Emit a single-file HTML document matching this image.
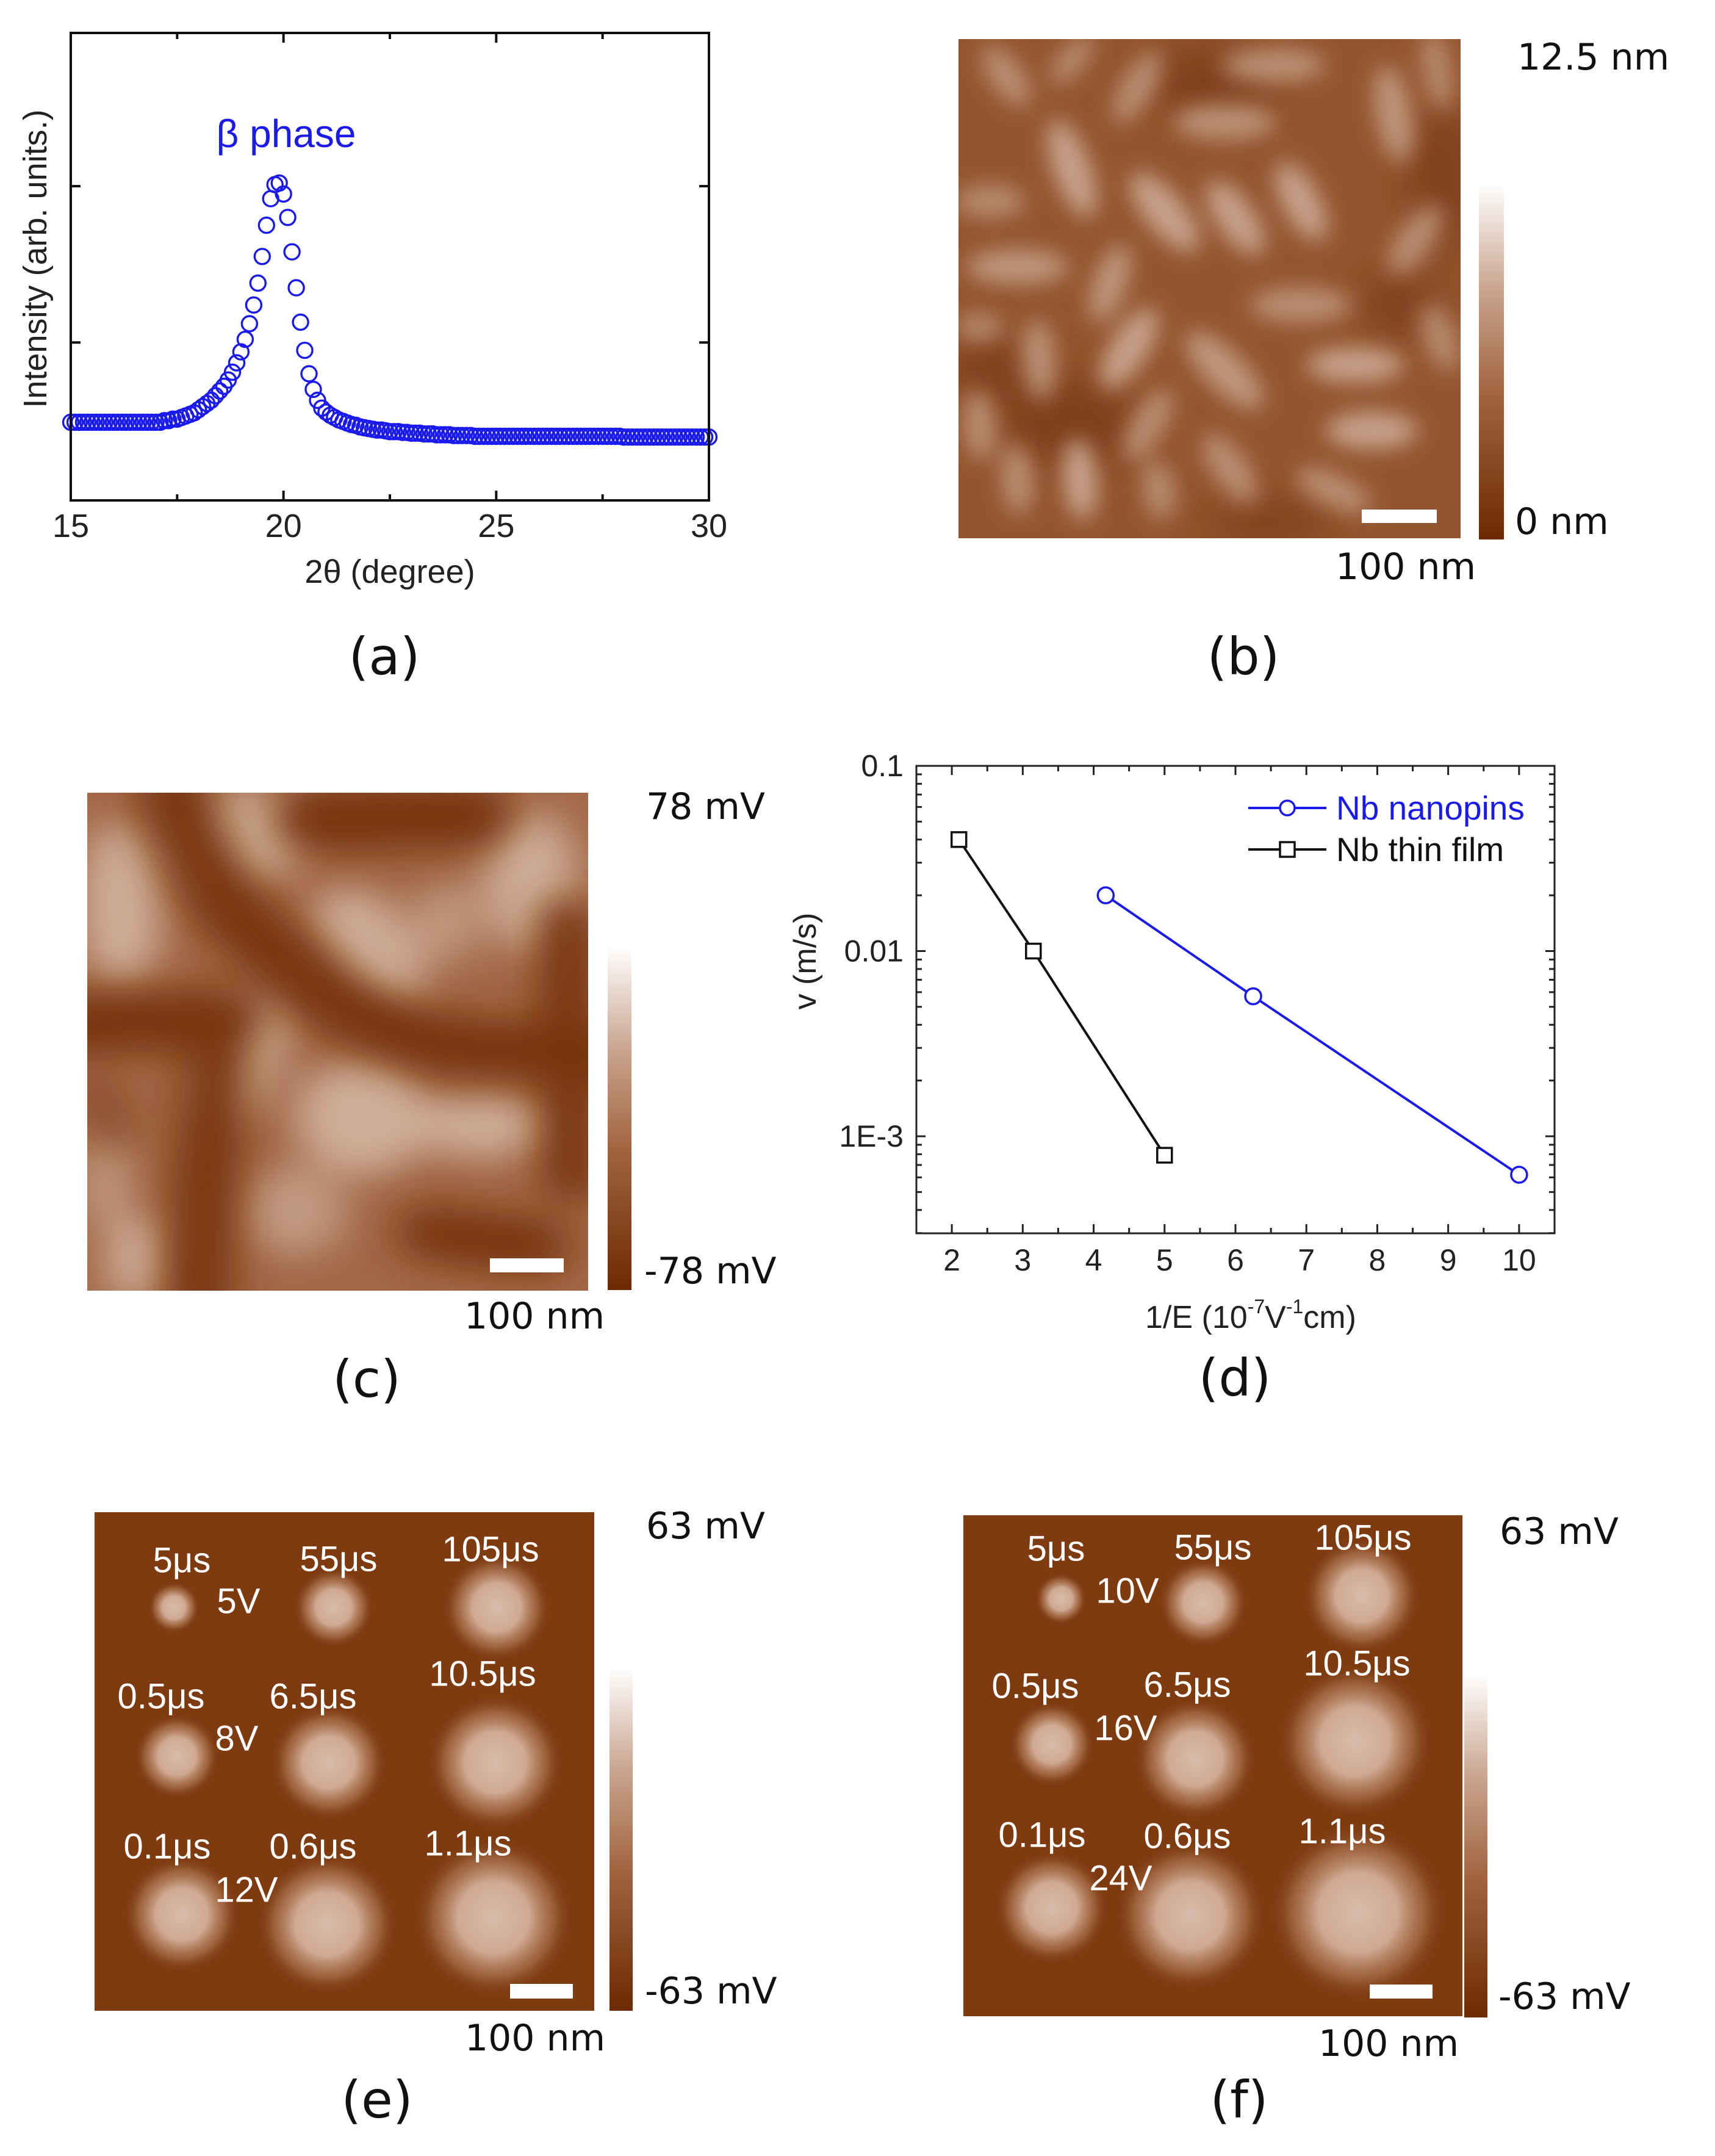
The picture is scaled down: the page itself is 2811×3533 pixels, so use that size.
<!DOCTYPE html>
<html><head><meta charset="utf-8">
<style>
html,body{margin:0;padding:0;background:#fff;}
svg{display:block;}
.t{font-family:"Liberation Sans",Arial,sans-serif;}
.v{font-family:"DejaVu Sans","Liberation Sans",sans-serif;}
</style></head>
<body>
<svg id="fig" width="2811" height="3533" viewBox="0 0 2811 3533" xmlns="http://www.w3.org/2000/svg">
<defs>
  <linearGradient id="cbar" x1="0" y1="0" x2="0" y2="1">
    <stop offset="0" stop-color="#ffffff"/>
    <stop offset="0.3" stop-color="#c9a48e"/>
    <stop offset="0.6" stop-color="#a0623e"/>
    <stop offset="1" stop-color="#6c2a00"/>
  </linearGradient>
  <filter id="blurB" x="-30%" y="-30%" width="160%" height="160%"><feGaussianBlur stdDeviation="20"/></filter>
  <filter id="blurC" x="-30%" y="-30%" width="160%" height="160%"><feGaussianBlur stdDeviation="40"/></filter>
  <radialGradient id="spot">
    <stop offset="0" stop-color="#d8bcaa"/>
    <stop offset="0.45" stop-color="#cfa992"/>
    <stop offset="0.75" stop-color="#b07a58" stop-opacity="0.6"/>
    <stop offset="1" stop-color="#7e3b10" stop-opacity="0"/>
  </radialGradient>
  <clipPath id="clipB"><rect x="192" y="72" width="921" height="916"/></clipPath>
  <clipPath id="clipC"><rect x="165" y="130" width="955" height="1120"/></clipPath>
</defs>

<!-- Panel a -->
<g id="panelA"></g>
<text class="t" x="469" y="219" font-size="64" fill="#1a1aee" text-anchor="middle" dominant-baseline="central">β phase</text>
<text class="t" x="639" y="937" font-size="54" fill="#222" text-anchor="middle" dominant-baseline="central">2θ (degree)</text>
<text class="t" font-size="54" fill="#222" text-anchor="middle" dominant-baseline="central" transform="translate(58,424) rotate(-90)">Intensity (arb. units.)</text>
<text class="v" x="630" y="1076" font-size="84" fill="#111" text-anchor="middle" dominant-baseline="central">(a)</text>

<!-- Panel b -->
<g>
  <svg x="1571" y="64" width="823" height="818" viewBox="192 72 921 916" preserveAspectRatio="none">
    <rect x="192" y="72" width="921" height="916" fill="#93552f"/>
    <g clip-path="url(#clipB)">
      <g filter="url(#blurC)" fill="#7a3a12" opacity="0.85">
        <ellipse cx="650" cy="150" rx="120" ry="60"/><ellipse cx="1080" cy="330" rx="60" ry="140"/>
        <ellipse cx="400" cy="780" rx="120" ry="90"/><ellipse cx="250" cy="680" rx="80" ry="60"/>
        <ellipse cx="760" cy="960" rx="120" ry="40"/><ellipse cx="1000" cy="560" rx="70" ry="60"/>
      </g>
      <g filter="url(#blurB)" fill="#c8a28c">
        <ellipse cx="400" cy="310" rx="95" ry="34" transform="rotate(70 400 310)"/>
        <ellipse cx="570" cy="390" rx="90" ry="36" transform="rotate(50 570 390)"/>
        <ellipse cx="700" cy="400" rx="80" ry="34" transform="rotate(55 700 400)"/>
        <ellipse cx="820" cy="370" rx="80" ry="34" transform="rotate(62 820 370)"/>
        <ellipse cx="505" cy="640" rx="85" ry="34" transform="rotate(-58 505 640)"/>
        <ellipse cx="415" cy="880" rx="75" ry="32" transform="rotate(85 415 880)"/>
        <ellipse cx="920" cy="670" rx="90" ry="32"/>
        <ellipse cx="950" cy="790" rx="85" ry="34"/>
        <ellipse cx="770" cy="120" rx="95" ry="30" opacity="0.8"/>
        <ellipse cx="680" cy="225" rx="95" ry="32" opacity="0.8"/>
        <ellipse cx="300" cy="490" rx="95" ry="32" opacity="0.85"/>
        <ellipse cx="990" cy="210" rx="90" ry="32" transform="rotate(80 990 210)" opacity="0.85"/>
        <ellipse cx="470" cy="520" rx="75" ry="30" transform="rotate(-70 470 520)" opacity="0.85"/>
        <ellipse cx="340" cy="660" rx="75" ry="30" transform="rotate(85 340 660)" opacity="0.8"/>
        <ellipse cx="280" cy="140" rx="65" ry="30" transform="rotate(55 280 140)" opacity="0.75"/>
        <ellipse cx="520" cy="160" rx="75" ry="30" transform="rotate(-60 520 160)" opacity="0.75"/>
        <ellipse cx="1030" cy="440" rx="75" ry="32" transform="rotate(-55 1030 440)" opacity="0.75"/>
        <ellipse cx="820" cy="560" rx="95" ry="32" opacity="0.75"/>
        <ellipse cx="680" cy="680" rx="95" ry="36" transform="rotate(45 680 680)" opacity="0.85"/>
        <ellipse cx="690" cy="860" rx="75" ry="32" transform="rotate(55 690 860)" opacity="0.75"/>
        <ellipse cx="300" cy="880" rx="65" ry="30" transform="rotate(85 300 880)" opacity="0.75"/>
        <ellipse cx="540" cy="780" rx="75" ry="30" transform="rotate(-60 540 780)" opacity="0.75"/>
        <ellipse cx="230" cy="780" rx="65" ry="30" transform="rotate(85 230 780)" opacity="0.75"/>
        <ellipse cx="880" cy="900" rx="75" ry="30" transform="rotate(25 880 900)" opacity="0.75"/>
        <ellipse cx="250" cy="370" rx="65" ry="30" opacity="0.7"/>
        <ellipse cx="1075" cy="620" rx="65" ry="30" transform="rotate(70 1075 620)" opacity="0.7"/>
        <ellipse cx="560" cy="900" rx="55" ry="30" transform="rotate(80 560 900)" opacity="0.7"/>
        <ellipse cx="230" cy="600" rx="45" ry="26" opacity="0.7"/>
        <ellipse cx="1070" cy="130" rx="75" ry="26" transform="rotate(80 1070 130)" opacity="0.7"/>
        <ellipse cx="400" cy="110" rx="55" ry="24" transform="rotate(-50 400 110)" opacity="0.7"/>
      </g>
    </g>
  </svg>
  <rect x="2232" y="835" width="123" height="22" fill="#fff"/>
</g>
<rect x="2424" y="299" width="41" height="585" fill="url(#cbar)"/>
<text class="v" x="2487" y="94" font-size="60" fill="#111" dominant-baseline="central">12.5 nm</text>
<text class="v" x="2483" y="855" font-size="60" fill="#111" dominant-baseline="central">0 nm</text>
<text class="v" x="2304" y="929" font-size="60" fill="#111" text-anchor="middle" dominant-baseline="central">100 nm</text>
<text class="v" x="2038" y="1076" font-size="84" fill="#111" text-anchor="middle" dominant-baseline="central">(b)</text>

<!-- Panel c -->
<g>
  <svg x="143" y="1299" width="821" height="816" viewBox="165 130 955 1120" preserveAspectRatio="none">
    <rect x="165" y="130" width="955" height="1120" fill="#a36849"/>
    <g clip-path="url(#clipC)">
      <g filter="url(#blurC)" fill="#cfae98">
        <ellipse cx="230" cy="380" rx="80" ry="190"/>
        <ellipse cx="450" cy="230" rx="130" ry="110"/>
        <ellipse cx="700" cy="480" rx="90" ry="150" transform="rotate(-30 700 480)"/>
        <ellipse cx="470" cy="720" rx="65" ry="160" transform="rotate(20 470 720)"/>
        <ellipse cx="690" cy="860" rx="130" ry="130"/>
        <ellipse cx="920" cy="880" rx="140" ry="70"/>
        <ellipse cx="1010" cy="330" rx="90" ry="160"/>
        <ellipse cx="260" cy="1180" rx="60" ry="100"/>
        <ellipse cx="560" cy="1070" rx="100" ry="100" opacity="0.7"/>
        <ellipse cx="200" cy="1000" rx="50" ry="110" opacity="0.7"/>
        <ellipse cx="850" cy="420" rx="60" ry="90" opacity="0.7"/>
      </g>
      <g filter="url(#blurC)" fill="none" stroke="#78360f" stroke-linecap="round">
        <path d="M120,650 L430,640" stroke-width="140"/>
        <path d="M330,130 C380,350 480,450 560,520 C620,600 700,660 850,700 L1150,720" stroke-width="140"/>
        <path d="M600,190 L900,180" stroke-width="150"/>
        <path d="M1080,420 L1090,1000" stroke-width="110"/>
        <path d="M410,740 C400,900 380,1100 380,1280" stroke-width="120"/>
        <path d="M820,1120 L1020,1150" stroke-width="130"/>
        <path d="M180,800 L220,900" stroke-width="80" opacity="0.6"/>
      </g>
    </g>
  </svg>
  <rect x="803" y="2062" width="121" height="23" fill="#fff"/>
</g>
<rect x="996" y="1552" width="39" height="562" fill="url(#cbar)"/>
<text class="v" x="1059" y="1322" font-size="60" fill="#111" dominant-baseline="central">78 mV</text>
<text class="v" x="1056" y="2083" font-size="60" fill="#111" dominant-baseline="central">-78 mV</text>
<text class="v" x="876" y="2157" font-size="60" fill="#111" text-anchor="middle" dominant-baseline="central">100 nm</text>
<text class="v" x="601" y="2260" font-size="84" fill="#111" text-anchor="middle" dominant-baseline="central">(c)</text>

<!-- Panel d -->
<g id="panelD"></g>
<text class="v" x="2024" y="2258" font-size="84" fill="#111" text-anchor="middle" dominant-baseline="central">(d)</text>

<!-- Panel e -->
<g>
  <rect x="155" y="2478" width="819" height="817" fill="#7e3b10"/>
  <g id="spotsE"></g>
  <rect x="836" y="3251" width="103" height="24" fill="#fff"/>
</g>
<rect x="999" y="2733" width="38" height="562" fill="url(#cbar)"/>
<text class="v" x="1059" y="2501" font-size="60" fill="#111" dominant-baseline="central">63 mV</text>
<text class="v" x="1057" y="3263" font-size="60" fill="#111" dominant-baseline="central">-63 mV</text>
<text class="v" x="877" y="3340" font-size="60" fill="#111" text-anchor="middle" dominant-baseline="central">100 nm</text>
<text class="v" x="618" y="3441" font-size="84" fill="#111" text-anchor="middle" dominant-baseline="central">(e)</text>

<!-- Panel f -->
<g>
  <rect x="1579" y="2483" width="818" height="821" fill="#7e3b10"/>
  <g id="spotsF"></g>
  <rect x="2245" y="3252" width="103" height="23" fill="#fff"/>
</g>
<rect x="2400" y="2744" width="38" height="562" fill="url(#cbar)"/>
<text class="v" x="2458" y="2510" font-size="60" fill="#111" dominant-baseline="central">63 mV</text>
<text class="v" x="2456" y="3272" font-size="60" fill="#111" dominant-baseline="central">-63 mV</text>
<text class="v" x="2276" y="3349" font-size="60" fill="#111" text-anchor="middle" dominant-baseline="central">100 nm</text>
<text class="v" x="2031" y="3441" font-size="84" fill="#111" text-anchor="middle" dominant-baseline="central">(f)</text>
</svg>

<script>
// ---- Panel (a) data ----
const xrdStart = 15.0;
const xrdStep = 0.1;
const xrdIntensity = [
1.49,1.49,1.49,1.49,1.49,1.49,1.49,1.49,1.49,1.49,
1.49,1.49,1.49,1.49,1.49,1.49,1.49,1.49,1.49,1.49,
1.49,1.49,1.50,1.50,1.51,1.51,1.52,1.53,1.54,1.55,
1.57,1.59,1.61,1.63,1.66,1.69,1.72,1.76,1.81,1.87,
1.94,2.02,2.12,2.24,2.38,2.55,2.75,2.92,3.01,3.02,
2.95,2.80,2.58,2.35,2.13,1.95,1.80,1.70,1.63,1.58,
1.555,1.535,1.52,1.505,1.495,1.485,1.475,1.47,1.46,1.455,
1.45,1.445,1.44,1.44,1.435,1.43,1.43,1.43,1.425,1.425,
1.42,1.42,1.42,1.415,1.415,1.415,1.41,1.41,1.41,1.41,
1.405,1.405,1.405,1.405,1.405,1.40,1.40,1.40,1.40,1.40,
1.40,1.40,1.40,1.40,1.40,1.40,1.40,1.40,1.40,1.40,
1.40,1.40,1.40,1.40,1.40,1.40,1.40,1.40,1.40,1.40,
1.40,1.40,1.40,1.40,1.40,1.40,1.40,1.40,1.40,1.40,
1.395,1.395,1.395,1.395,1.395,1.395,1.395,1.395,1.395,1.395,
1.395,1.395,1.395,1.395,1.395,1.395,1.395,1.395,1.395,1.395,1.395];
const xrdXTicks = [15,20,25,30];
const xrdYTicks = [2,3];

// ---- Panel (d) data ----
const seriesNames = ["Nb nanopins","Nb thin film"];
const nanopinsX = [4.17,6.25,10.0];
const nanopinsV = [0.020,0.0057,0.00062];
const filmX = [2.1,3.15,5.0];
const filmV = [0.040,0.010,0.00079];
const dXTicks = [2,3,4,5,6,7,8,9,10];
const dYTicks = [0.1,0.01,0.001];
const dYTickLabels = ["0.1","0.01","1E-3"];

// ---- Panels (e),(f) data ----
const pulseLabelsE = ["5μs","55μs","105μs","0.5μs","6.5μs","10.5μs","0.1μs","0.6μs","1.1μs"];
const voltLabelsE = ["5V","8V","12V"];
const spotRadiiE = [29,45,61,48,66,77,66,80,90];
const pulseLabelsF = ["5μs","55μs","105μs","0.5μs","6.5μs","10.5μs","0.1μs","0.6μs","1.1μs"];
const voltLabelsF = ["10V","16V","24V"];
const spotRadiiF = [29,50,66,48,69,87,64,85,100];

const NS = "http://www.w3.org/2000/svg";
function mk(tag, attrs, parent){const e=document.createElementNS(NS,tag);for(const k in attrs)e.setAttribute(k,attrs[k]);parent.appendChild(e);return e;}

// Panel a
(function(){
  const g=document.getElementById('panelA');
  const L=116,R=1162,T=54,B=820, xmin=15,xmax=30, ymin=0.99,ymax=3.98;
  const sx=v=>L+(v-xmin)/(xmax-xmin)*(R-L);
  const sy=v=>B-(v-ymin)/(ymax-ymin)*(B-T);
  const pts=mk('g',{},g);
  
  
  xrdIntensity.forEach((v,i)=>{
    const c=mk('circle',{cx:sx(xrdStart+i*xrdStep).toFixed(1),cy:sy(v).toFixed(1),r:12.5,fill:'none',stroke:'#1a1af0','stroke-width':3.4},pts);
    
    
  });
  const fr=mk('rect',{x:L,y:T,width:R-L,height:B-T,fill:'none',stroke:'#111','stroke-width':4},g);
  
  
  for(let v=15;v<=30;v+=2.5){
    const major=(v%5===0), len=major?16:10;
    mk('line',{x1:sx(v),y1:B,x2:sx(v),y2:B-len,stroke:'#111','stroke-width':4},g);
    mk('line',{x1:sx(v),y1:T,x2:sx(v),y2:T+len,stroke:'#111','stroke-width':4},g);
  }
  xrdXTicks.forEach(v=>{
    const t=mk('text',{x:sx(v),y:862,'font-size':54,fill:'#222','text-anchor':'middle','dominant-baseline':'central',class:'t'},g);
    t.textContent=v;
    
    
  });
  xrdYTicks.forEach(v=>{
    mk('line',{x1:L,y1:sy(v),x2:L+16,y2:sy(v),stroke:'#111','stroke-width':4},g);
    mk('line',{x1:R,y1:sy(v),x2:R-16,y2:sy(v),stroke:'#111','stroke-width':4},g);
  });
})();

// Panel d
(function(){
  const g=document.getElementById('panelD');
  const L=1502,R=2548,T=1255,B=2021, xmin=1.5,xmax=10.5, lmax=-1, dec=303.5;
  const sx=v=>L+(v-xmin)/(xmax-xmin)*(R-L);
  const sy=v=>T+(lmax-Math.log10(v))*dec;
  const fr=mk('rect',{x:L,y:T,width:R-L,height:B-T,fill:'none',stroke:'#222','stroke-width':3},g);
  
  
  for(let v=1.5;v<=10.5;v+=0.5){
    const major=Math.abs(v-Math.round(v))<1e-6 && v>=2, len=major?15:9;
    mk('line',{x1:sx(v),y1:B,x2:sx(v),y2:B-len,stroke:'#222','stroke-width':3},g);
    mk('line',{x1:sx(v),y1:T,x2:sx(v),y2:T+len,stroke:'#222','stroke-width':3},g);
  }
  for(let e=-4;e<=-2;e++){
    for(let m=1;m<=9;m++){
      const v=m*Math.pow(10,e); const y=sy(v);
      if(y<T-1||y>B+1)continue;
      const len=(m===1)?15:9;
      mk('line',{x1:L,y1:y,x2:L+len,y2:y,stroke:'#222','stroke-width':3},g);
      mk('line',{x1:R,y1:y,x2:R-len,y2:y,stroke:'#222','stroke-width':3},g);
    }
  }
  dXTicks.forEach(v=>{
    const t=mk('text',{x:sx(v),y:2065,'font-size':50,fill:'#222','text-anchor':'middle','dominant-baseline':'central',class:'t'},g);
    t.textContent=v;
    
    
  });
  dYTicks.forEach((v,i)=>{
    const t=mk('text',{x:1481,y:sy(v),'font-size':50,fill:'#222','text-anchor':'end','dominant-baseline':'central',class:'t'},g);
    t.textContent=dYTickLabels[i];
    
    
  });
  const xt=mk('text',{x:2050,y:2159,'font-size':52,fill:'#222','text-anchor':'middle','dominant-baseline':'central',class:'t'},g);
  xt.innerHTML='1/E (10<tspan dy="-18" font-size="32">-7</tspan><tspan dy="18">V</tspan><tspan dy="-18" font-size="32">-1</tspan><tspan dy="18">cm)</tspan>';
  
  
  const yt=mk('text',{'font-size':52,fill:'#222','text-anchor':'middle','dominant-baseline':'central',class:'t',transform:'translate(1320,1575) rotate(-90)'},g);
  yt.textContent='v (m/s)';
  
  

  function series(xs,vs,color,marker,name){
    const sg=mk('g',{},g);
    
    
    mk('polyline',{points:xs.map((x,i)=>sx(x).toFixed(1)+','+sy(vs[i]).toFixed(1)).join(' '),fill:'none',stroke:color,'stroke-width':4},sg);
    xs.forEach((x,i)=>{
      let m;
      if(marker==='circle') m=mk('circle',{cx:sx(x),cy:sy(vs[i]),r:13,fill:'#fff',stroke:color,'stroke-width':3.5},sg);
      else m=mk('rect',{x:sx(x)-12,y:sy(vs[i])-12,width:24,height:24,fill:'#fff',stroke:color,'stroke-width':3.5},sg);
      
      
    });
  }
  series(filmX,filmV,'#111','square','thin-film-series');
  series(nanopinsX,nanopinsV,'#1a1af0','circle','nanopins-series');

  const lg=mk('g',{},g);
  
  
  const rows=[[1324,'#1a1af0','circle'],[1392,'#111','square']];
  rows.forEach((r,i)=>{
    const e=mk('g',{},lg);
    
    
    mk('line',{x1:2046,y1:r[0],x2:2174,y2:r[0],stroke:r[1],'stroke-width':4},e);
    if(r[2]==='circle') mk('circle',{cx:2110,cy:r[0],r:12,fill:'#fff',stroke:r[1],'stroke-width':3.5},e);
    else mk('rect',{x:2098,y:r[0]-12,width:24,height:24,fill:'#fff',stroke:r[1],'stroke-width':3.5},e);
    const t=mk('text',{x:2190,y:r[0],'font-size':55,fill:r[1],'dominant-baseline':'central',class:'t'},e);
    t.textContent=seriesNames[i];
  });
})();

// Panels e,f
function spots(id, centers, radii, pulses, pulsePos, volts, voltPos){
  const g=document.getElementById(id);
  centers.forEach((c,i)=>{
    const s=mk('circle',{cx:c[0],cy:c[1],r:radii[i]*1.45,fill:'url(#spot)'},g);
    
    
  });
  pulses.forEach((p,i)=>{
    const t=mk('text',{x:pulsePos[i][0],y:pulsePos[i][1],'font-size':58,fill:'#fff','text-anchor':'middle','dominant-baseline':'central',class:'t'},g);
    t.textContent=p;
    
    
  });
  volts.forEach((p,i)=>{
    const t=mk('text',{x:voltPos[i][0],y:voltPos[i][1],'font-size':58,fill:'#fff','text-anchor':'middle','dominant-baseline':'central',class:'t'},g);
    t.textContent=p;
    
    
  });
}
spots('spotsE',
  [[285,2634],[547,2634],[814,2634],[290,2878],[539,2888],[812,2888],[298,3137],[536,3153],[809,3142]],
  spotRadiiE, pulseLabelsE,
  [[298,2557],[555,2555],[804,2539],[264,2780],[513,2780],[791,2743],[274,3026],[513,3026],[767,3021]],
  voltLabelsE, [[391,2624],[388,2849],[404,3097]]);
spots('spotsF',
  [[1739,2620],[1972,2626],[2232,2615],[1724,2858],[1959,2882],[2221,2853],[1724,3126],[1951,3139],[2226,3134]],
  spotRadiiF, pulseLabelsF,
  [[1731,2538],[1988,2536],[2234,2520],[1697,2763],[1946,2761],[2224,2726],[1708,3007],[1946,3009],[2200,3001]],
  voltLabelsF, [[1848,2607],[1845,2832],[1837,3078]]);
</script>
</body></html>
